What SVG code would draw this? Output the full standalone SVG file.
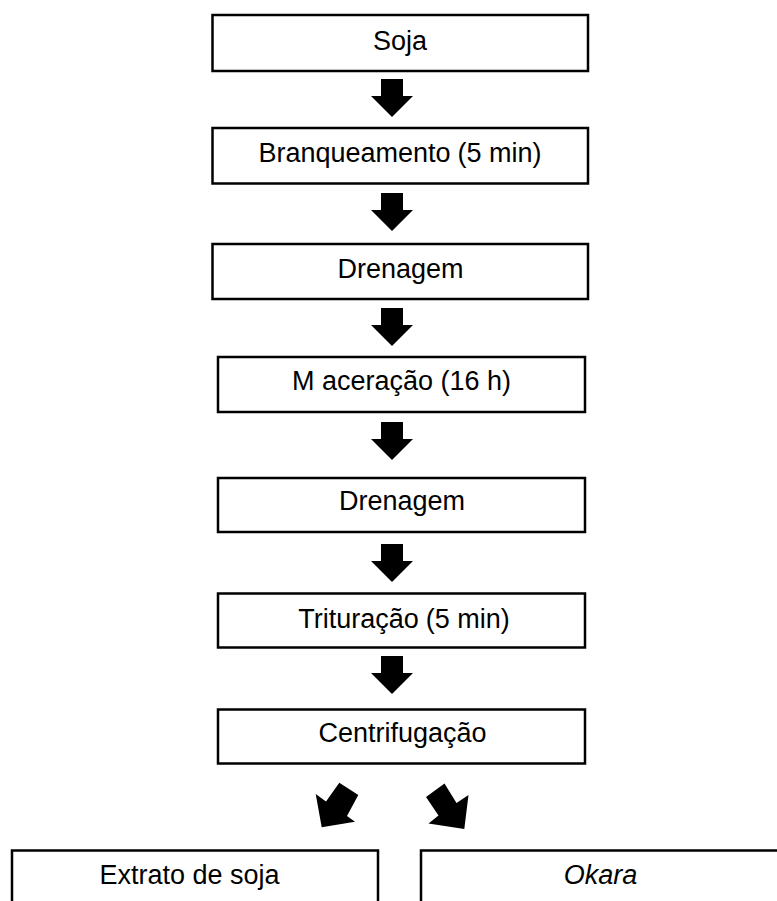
<svg xmlns="http://www.w3.org/2000/svg" width="777" height="901" viewBox="0 0 777 901">
<style>
.box{fill:#fff;stroke:#000;stroke-width:2.5}
.t{font-family:"Liberation Sans",Arial,sans-serif;font-size:27px;fill:#000;text-anchor:middle}
.arr{fill:#000}
</style>
<defs>
<path id="down" d="M-11,0 H11 V17 H21 L0,38 L-21,17 H-11 Z"/>
</defs>
<rect width="777" height="901" fill="#fff"/>
<g id="n1"><rect class="box" x="212.5" y="15" width="375.5" height="56"/><text class="t" x="400" y="50">Soja</text></g>
<g id="n2"><rect class="box" x="212.5" y="128" width="375.5" height="55.5"/><text class="t" x="400" y="162">Branqueamento<tspan dx="7">(5 min)</tspan></text></g>
<g id="n3"><rect class="box" x="212.5" y="244" width="375.5" height="55"/><text class="t" x="400.5" y="278">Drenagem</text></g>
<g id="n4"><rect class="box" x="218" y="357" width="367" height="55"/><text class="t" x="401.5" y="390">M aceração (16 h)</text></g>
<g id="n5"><rect class="box" x="218" y="478" width="367" height="54"/><text class="t" x="402" y="510">Drenagem</text></g>
<g id="n6"><rect class="box" x="218" y="593.5" width="367" height="54"/><text class="t" x="404" y="628">Trituração<tspan dx="7">(5 min)</tspan></text></g>
<g id="n7"><rect class="box" x="218" y="709.5" width="367" height="54"/><text class="t" x="402.5" y="742">Centrifugação</text></g>
<g id="n8"><rect class="box" x="12" y="850.5" width="366" height="60"/><text class="t" x="189.5" y="884">Extrato de soja</text></g>
<g id="n9"><rect class="box" x="421" y="850.5" width="400" height="60"/><text class="t" x="600.5" y="884" font-style="italic">Okara</text></g>
<g id="connectors" class="arr">
<use href="#down" transform="translate(392,79)"/>
<use href="#down" transform="translate(392,193)"/>
<use href="#down" transform="translate(392,308)"/>
<use href="#down" transform="translate(392,422)"/>
<use href="#down" transform="translate(392,544)"/>
<use href="#down" transform="translate(392,656)"/>
<polygon points="339.3,782.7 358.3,795 347,816 355,821.7 321.7,827.3 315.7,794 326,801.5"/>
<polygon points="444.5,783.5 426,797 438.5,815.5 428.5,823.5 464.3,829 468.5,795 456.5,803"/>
</g>
</svg>
